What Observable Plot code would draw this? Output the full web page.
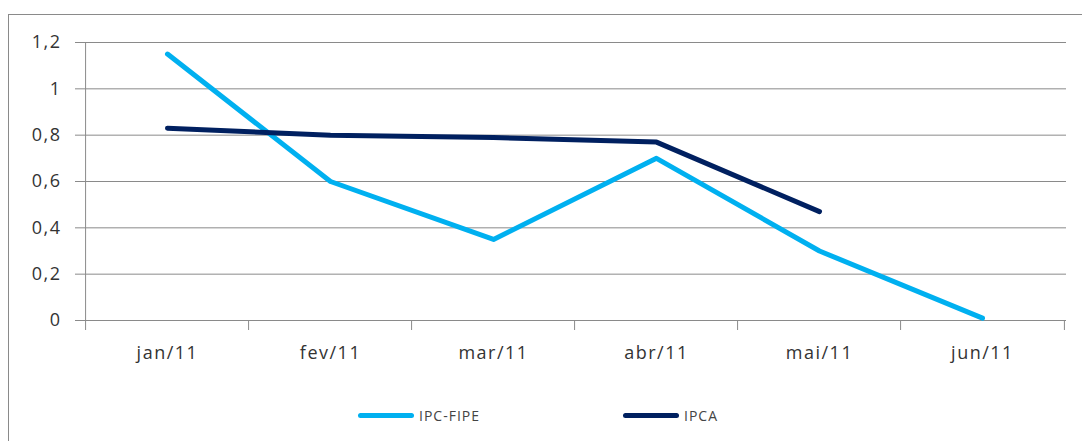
<!DOCTYPE html>
<html>
<head>
<meta charset="utf-8">
<script src="https://cdn.jsdelivr.net/npm/d3@7"></script>
<script src="https://cdn.jsdelivr.net/npm/@observablehq/plot@0.6"></script>
<style>
  html, body { margin: 0; padding: 0; background: #fff; }
  body { position: relative; width: 1082px; height: 441px; overflow: hidden; font-family: "Open Sans", sans-serif; }
  #frame { position: absolute; left: 8px; top: 14px; width: 1090px; height: 440px; border: 1px solid #8a8a8a; box-sizing: border-box; }
  #chart { position: absolute; left: 0; top: 0; }
  [aria-label="y-axis tick"] { stroke: #8a8a8a; }
  #legend { position: absolute; top: 403px; left: 0; width: 1082px; height: 24px; font-size: 14px; color: #444; letter-spacing: 1px; }
  .item { position: absolute; display: flex; align-items: center; height: 24px; }
  .sw { width: 56px; height: 5px; border-radius: 3px; margin-right: 5px; }
</style>
</head>
<body>
<div id="frame"></div>
<div id="chart"></div>
<div id="legend"></div>
<script>
const months = ["jan/11", "fev/11", "mar/11", "abr/11", "mai/11", "jun/11"];
const ipcFipe = [1.15, 0.60, 0.35, 0.70, 0.30, 0.01];
const ipca = [0.83, 0.80, 0.79, 0.77, 0.47];
const yTicks = [0, 0.2, 0.4, 0.6, 0.8, 1, 1.2];
const seriesNames = ["IPC-FIPE", "IPCA"];
const seriesColors = ["#00b0f0", "#002060"];

const W = 1082, H = 380, mL = 83, mR = 16, mT = 42, mB = 60;
const step = (W - mL - mR) / months.length;

const fipeData = ipcFipe.map((v, i) => ({month: months[i], value: v}));
const ipcaData = ipca.map((v, i) => ({month: months[i], value: v}));

const plot = Plot.plot({
  width: W, height: H,
  marginLeft: mL, marginRight: mR, marginTop: mT, marginBottom: mB,
  style: {fontFamily: "'Open Sans', sans-serif", fontSize: "18px", color: "#333", background: "transparent", letterSpacing: "1.5px"},
  x: {type: "point", domain: months, padding: 0.5, tickSize: 0, tickPadding: 26, label: null},
  y: {domain: [0, 1.2], ticks: yTicks, tickFormat: d => String(d).replace(".", ","), tickSize: 8, tickPadding: 14, label: null},
  marks: [
    Plot.ruleY(yTicks, {stroke: "#8a8a8a", strokeWidth: 1}),
    Plot.ruleX([months[0]], {dx: -step / 2, stroke: "#8a8a8a"}),
    Plot.ruleX(months, {y1: 0, y2: 0, dx: -step / 2, insetBottom: -10, stroke: "#8a8a8a"}),
    Plot.ruleX([months[months.length - 1]], {y1: 0, y2: 0, dx: step / 2, insetBottom: -10, stroke: "#8a8a8a"}),
    Plot.line(fipeData, {x: "month", y: "value", stroke: seriesColors[0], strokeWidth: 5}),
    Plot.line(ipcaData, {x: "month", y: "value", stroke: seriesColors[1], strokeWidth: 5})
  ]
});
document.getElementById("chart").appendChild(plot);

const legend = document.getElementById("legend");
const lefts = [358, 623];
seriesNames.forEach((name, i) => {
  const item = document.createElement("div");
  item.className = "item";
  item.style.left = lefts[i] + "px";
  const sw = document.createElement("div");
  sw.className = "sw";
  sw.style.background = seriesColors[i];
  const t = document.createElement("span");
  t.textContent = name;
  item.appendChild(sw);
  item.appendChild(t);
  legend.appendChild(item);
});
</script>
</body>
</html>
